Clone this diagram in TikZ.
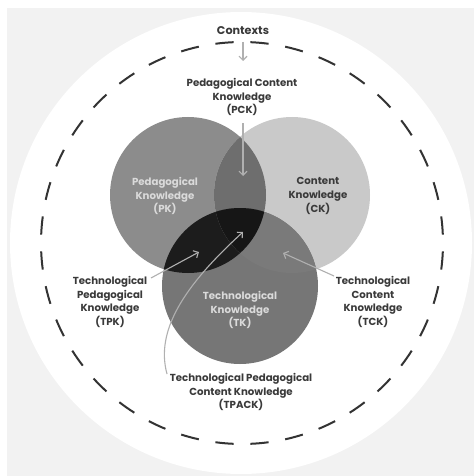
\documentclass[tikz,border=0pt]{standalone}
\usepackage{fontspec}
\setmainfont{Poppins}
\usetikzlibrary{arrows.meta}
\definecolor{bggray}{HTML}{F2F2F2}
\definecolor{pkcol}{HTML}{8C8C8C}
\definecolor{ckcol}{HTML}{C9C9C9}
\definecolor{tkcol}{HTML}{767676}
\definecolor{pckcol}{HTML}{6E6E6E}
\definecolor{tpkcol}{HTML}{1C1C1C}
\definecolor{tckcol}{HTML}{7A7A7A}
\definecolor{tpackcol}{HTML}{161616}
\definecolor{txtdark}{HTML}{3A3A3A}
\definecolor{txtlight}{HTML}{DADADA}
\definecolor{arrgray}{HTML}{B0B0B0}
\begin{document}
\begin{tikzpicture}[x=1pt,y=-1pt,
  lbl/.style={font=\bfseries\fontsize{10.2}{13.9}\selectfont, align=center, text=txtdark, inner sep=0pt},
  lbllight/.style={lbl, text=txtlight},
  pointer/.style={draw=arrgray, line width=1.1pt, -{Straight Barb[length=4pt,width=8pt,line width=1.1pt]}},
]
\useasboundingbox (0,0) rectangle (476,476);
\fill[white] (0,0) rectangle (476,476);
\fill[bggray] (7,8) rectangle (474,476);
\fill[white] (241,243) circle[radius=231];
% dashed context circle
\foreach \i in {0,...,35}{
  \draw[line width=2pt, black!80] ([shift={(92.4+10*\i:201)}]242,243) arc[start angle=92.4+10*\i, end angle=97.6+10*\i, radius=201];
}
% circles
\coordinate (cp) at (188,195);
\coordinate (cc) at (292,195);
\coordinate (ct) at (240,286);
\fill[pkcol] (cp) circle[radius=78];
\fill[ckcol] (cc) circle[radius=78];
\fill[tkcol] (ct) circle[radius=78];
\begin{scope}
  \clip (cp) circle[radius=78];
  \fill[pckcol] (cc) circle[radius=78];
  \fill[tpkcol] (ct) circle[radius=78];
\end{scope}
\begin{scope}
  \clip (cc) circle[radius=78];
  \fill[tckcol] (ct) circle[radius=78];
  \clip (ct) circle[radius=78];
  \fill[tpackcol] (cp) circle[radius=78];
\end{scope}
% labels
\node[lbl, font=\bfseries\fontsize{11.2}{13.9}\selectfont] (ctx) at (243,31) {Contexts};
\node[lbl] (pck) at (242,97) {Pedagogical Content\\Knowledge\\(PCK)};
\node[lbllight] (pk) at (165,196) {Pedagogical\\Knowledge\\(PK)};
\node[lbl] (ck) at (318,196) {Content\\Knowledge\\(CK)};
\node[lbllight] (tk) at (240,310) {Technological\\Knowledge\\(TK)};
\node[lbl] (tpk) at (110,302) {Technological\\Pedagogical\\Knowledge\\(TPK)};
\node[lbl] (tck) at (373,302) {Technological\\Content\\Knowledge\\(TCK)};
\node[lbl] (tpack) at (241,392) {Technological Pedagogical\\Content Knowledge\\(TPACK)};
% pointer ends
\coordinate (ctxend) at (243,61);
\coordinate (pckstart) at (243,123);
\coordinate (pckend) at (243,176);
\coordinate (tpkstart) at (151,278);
\coordinate (tpkend) at (199,252);
\coordinate (tckstart) at (334,276);
\coordinate (tckend) at (283,253);
\coordinate (tpackstart) at (167,374);
\coordinate (tpackend) at (243,232);
\draw[pointer] (ctx.south |- 0,42) -- (ctxend);
\draw[pointer] (pckstart) -- (pckend);
\draw[pointer] (tpkstart) -- (tpkend);
\draw[pointer] (tckstart) -- (tckend);
\draw[pointer] (tpackstart) .. controls (155,330) and (185,285) .. (tpackend);
\end{tikzpicture}
\end{document}
